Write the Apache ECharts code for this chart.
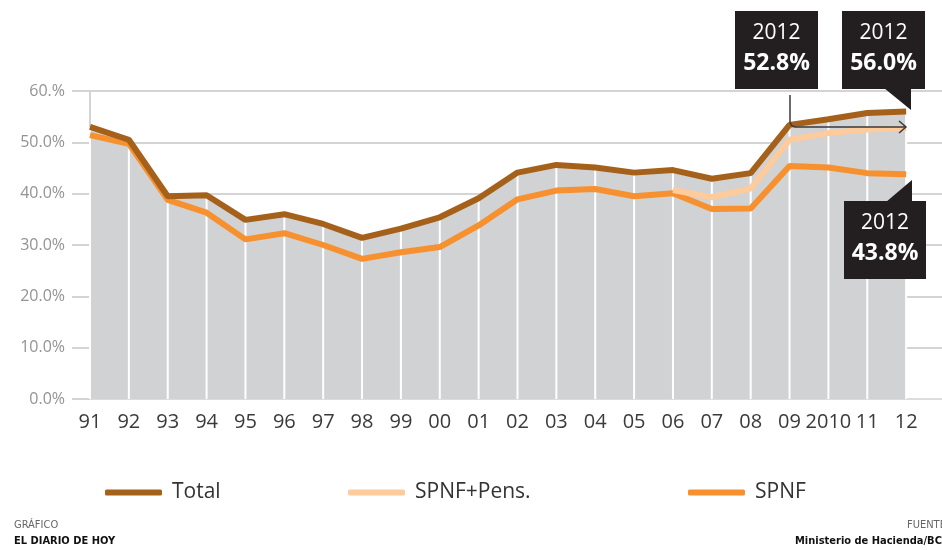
<!DOCTYPE html>
<html>
<head>
<meta charset="utf-8">
<script src="https://cdn.jsdelivr.net/npm/echarts@6/dist/echarts.min.js"></script>
<style>
  html, body { margin: 0; padding: 0; background: #fff; }
  #chart { width: 942px; height: 550px; }
</style>
</head>
<body>
<div id="chart"></div>
<script>
// years on the x axis
const years = ['91', '92', '93', '94', '95', '96', '97', '98', '99', '00', '01',
  '02', '03', '04', '05', '06', '07', '08', '09', '2010', '11', '12']
// % of GDP
const total = [53.0, 50.5, 39.5, 39.7, 34.9, 36.0, 34.1, 31.4, 33.2, 35.4, 39.1,
  44.1, 45.6, 45.1, 44.1, 44.6, 42.9, 44.0, 53.4, 54.5, 55.7, 56.0]
const spnfPens = [null, null, null, null, null, null, null, null, null, null, null,
  null, null, null, null, 40.7, 39.3, 41.0, 50.5, 51.8, 52.5, 52.8]
const spnf = [51.4, 49.7, 38.8, 36.3, 31.1, 32.3, 30.0, 27.3, 28.6, 29.6, 33.8,
  38.9, 40.6, 40.9, 39.5, 40.1, 37.0, 37.1, 45.4, 45.1, 44.0, 43.8]
const yTickLabels = ['0.0%', '10.0%', '20.0%', '30.0%', '40.0%', '50.0%', '60.%']

const font = '"Open Sans", "Noto Sans", sans-serif'
const narrow = '"Liberation Sans Narrow", "DejaVu Sans Condensed", sans-serif'

const chart = echarts.init(document.getElementById('chart'), null, { renderer: 'canvas' })

// one padding category so the grid lines run on to the right edge
const axisCats = years.concat([''])

function callout (x, y, w, h, year, value) {
  return [
    { type: 'rect', shape: { x: x, y: y, width: w, height: h }, style: { fill: '#231f20' }, z: 20 },
    { type: 'text', x: x + w / 2, y: y + 22, z: 21,
      style: { text: year, fill: '#fff', font: '400 21px ' + font, align: 'center', verticalAlign: 'middle' } },
    { type: 'text', x: x + w / 2, y: y + 52, z: 21,
      style: { text: value, fill: '#fff', font: '700 23px ' + font, align: 'center', verticalAlign: 'middle' } }
  ]
}

function legendItem (name, left) {
  return {
    data: [name],
    left: left,
    top: 477,
    icon: 'roundRect',
    itemWidth: 57,
    itemHeight: 6,
    textStyle: { fontFamily: font, fontSize: 21, color: '#333', padding: [0, 0, 0, 5] }
  }
}

chart.setOption({
  animation: false,
  backgroundColor: '#fff',
  grid: { left: 90, width: 855, top: 91, bottom: 151, outerBoundsMode: 'none', containLabel: false },
  legend: [
    legendItem('Total', 100),
    legendItem('SPNF+Pens.', 343),
    legendItem('SPNF', 683)
  ],
  xAxis: {
    type: 'category',
    data: axisCats,
    boundaryGap: false,
    axisLine: { lineStyle: { color: '#dcdcdc', width: 2 } },
    axisTick: { show: false },
    axisLabel: { color: '#3a3a3a', fontFamily: font, fontSize: 20, margin: 13, interval: 0 },
    splitLine: { show: false }
  },
  yAxis: {
    type: 'value',
    min: 0,
    max: 60,
    interval: 10,
    axisLine: { show: true, lineStyle: { color: '#d4d4d4', width: 2 } },
    axisTick: { show: true, length: 18, lineStyle: { color: '#d4d4d4', width: 2 } },
    axisLabel: {
      color: '#939393', fontFamily: font, fontSize: 16, margin: 25,
      formatter: v => yTickLabels[Math.round(v / 10)]
    },
    splitLine: { lineStyle: { color: '#d4d4d4', width: 2 } }
  },
  series: [
    {
      name: 'area',
      type: 'line',
      data: total,
      symbol: 'none',
      silent: true,
      lineStyle: { width: 0 },
      areaStyle: { color: '#d1d2d4', opacity: 1 },
      z: 1
    },
    {
      name: 'dividers',
      type: 'bar',
      data: total,
      barWidth: 2,
      silent: true,
      itemStyle: { color: '#fff' },
      z: 2
    },
    {
      name: 'Total',
      type: 'line',
      data: total,
      symbol: 'none',
      lineStyle: { color: '#a5611a', width: 6 },
      itemStyle: { color: '#a5611a' },
      z: 5
    },
    {
      name: 'SPNF+Pens.',
      type: 'line',
      data: spnfPens,
      symbol: 'none',
      lineStyle: { color: '#fdcb9c', width: 6 },
      itemStyle: { color: '#fdcb9c' },
      z: 4
    },
    {
      name: 'SPNF',
      type: 'line',
      data: spnf,
      symbol: 'none',
      lineStyle: { color: '#f7902f', width: 6 },
      itemStyle: { color: '#f7902f' },
      z: 3
    }
  ],
  graphic: [
    ...callout(735, 11, 83, 78, '2012', '52.8%'),
    ...callout(842, 11, 83, 78, '2012', '56.0%'),
    ...callout(844, 201, 82, 78, '2012', '43.8%'),
    { type: 'polygon', z: 20, shape: { points: [[884, 88], [911, 88], [911, 110]] }, style: { fill: '#231f20' } },
    { type: 'polygon', z: 20, shape: { points: [[886, 202], [912, 180], [912, 202]] }, style: { fill: '#231f20' } },
    { type: 'polyline', z: 20,
      shape: { points: [[790, 95], [790, 122], [791.5, 125.5], [795, 127], [906, 127]] },
      style: { stroke: '#3a3a3a', lineWidth: 1.5, fill: null } },
    { type: 'polyline', z: 20,
      shape: { points: [[899, 121], [906, 127], [899, 133]] },
      style: { stroke: '#3a3a3a', lineWidth: 1.5, fill: null } },
    { type: 'text', left: 14, top: 520,
      style: { text: 'GRÁFICO', fill: '#666', font: '400 11px ' + narrow } },
    { type: 'text', left: 14, top: 536,
      style: { text: 'EL DIARIO DE HOY', fill: '#111', font: '700 11px ' + narrow } },
    { type: 'text', x: 907, y: 520,
      style: { text: 'FUENTE:', fill: '#666', font: '400 11px ' + narrow } },
    { type: 'text', x: 795, y: 536,
      style: { text: 'Ministerio de Hacienda/BCR', fill: '#111', font: '700 11px ' + narrow } }
  ]
})
</script>
</body>
</html>
